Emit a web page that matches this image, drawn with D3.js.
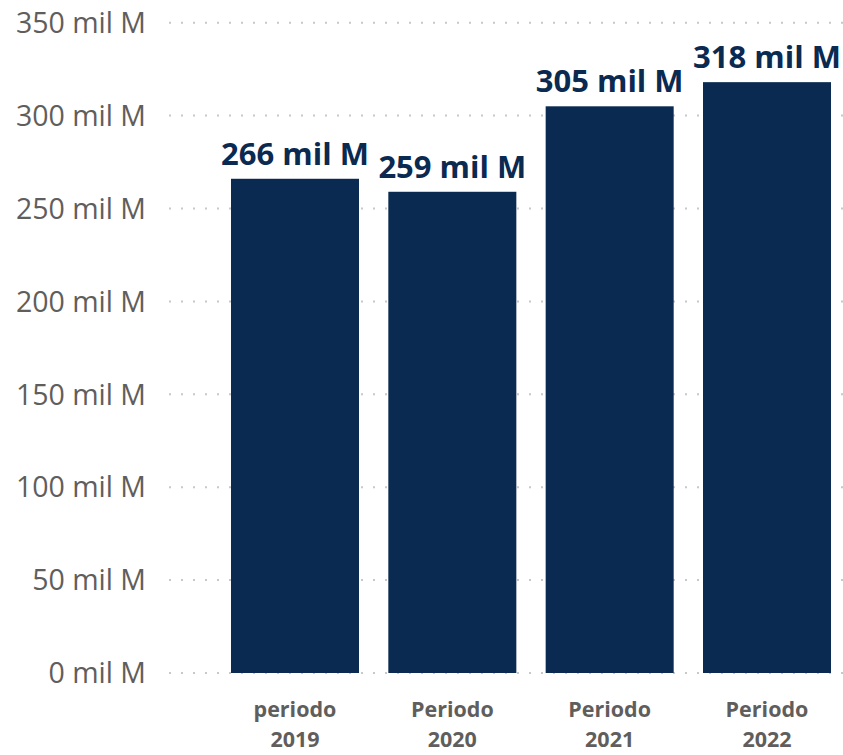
<!DOCTYPE html>
<html><head><meta charset="utf-8">
<script src="https://cdn.jsdelivr.net/npm/d3@7"></script>
<style>body{margin:0;background:#fff;}svg{display:block;}</style>
</head><body>
<svg id="c" width="843" height="755"></svg>
<script>
const categories = [["periodo","2019"],["Periodo","2020"],["Periodo","2021"],["Periodo","2022"]];
const values = [266, 259, 305, 318];
const valueLabels = ["266 mil M","259 mil M","305 mil M","318 mil M"];
const yTicks = [0,50,100,150,200,250,300,350];

const svg = d3.select("#c");
const font = "'Open Sans', sans-serif";
const keys = categories.map(c => c.join(" "));
const x = d3.scaleBand().domain(keys).range([216.33, 845.67]).paddingInner(0.1864).paddingOuter(0.0932);
const y = d3.scaleLinear().domain([0,350]).range([673, 22.7]);

// gridlines
svg.append("g").selectAll("line").data(yTicks).join("line")
  .attr("x1",169).attr("x2",843)
  .attr("y1",d=>y(d)).attr("y2",d=>y(d))
  .attr("stroke","#c8c8c8").attr("stroke-width",2).attr("stroke-dasharray","2,10");

// y labels
const yAxis = d3.axisLeft(y).tickValues(yTicks).tickSize(0).tickPadding(0).tickFormat(d=>d+" mil M");
const ya = svg.append("g").attr("transform","translate(146,0)").call(yAxis);
ya.select(".domain").remove();
ya.selectAll("text").attr("font-family",font).attr("font-size",28.5).attr("font-weight",500).attr("fill","#605e5c").attr("dy","0.34em");

// bars
svg.append("g").selectAll("rect").data(values).join("rect")
  .attr("x",(d,i)=>x(keys[i])).attr("width",x.bandwidth())
  .attr("y",d=>y(d)).attr("height",d=>y(0)-y(d))
  .attr("fill","#0a2a51");

// value labels
svg.append("g").selectAll("text").data(values).join("text")
  .attr("x",(d,i)=>x(keys[i])+x.bandwidth()/2).attr("y",d=>y(d)-14)
  .attr("text-anchor","middle").attr("font-family",font).attr("font-weight",700)
  .attr("font-size",31).attr("fill","#0a2a51")
  .text((d,i)=>valueLabels[i]);

// x labels
const xl = svg.append("g").selectAll("text").data(categories).join("text")
  .attr("x",(d,i)=>x(keys[i])+x.bandwidth()/2)
  .attr("text-anchor","middle").attr("font-family",font).attr("font-weight",700)
  .attr("font-size",21.5).attr("fill","#605e5c");
xl.append("tspan").attr("x",(d,i)=>x(keys[i])+x.bandwidth()/2).attr("y",717).text(d=>d[0]);
xl.append("tspan").attr("x",(d,i)=>x(keys[i])+x.bandwidth()/2).attr("y",747).text(d=>d[1]);
</script>
</body></html>
